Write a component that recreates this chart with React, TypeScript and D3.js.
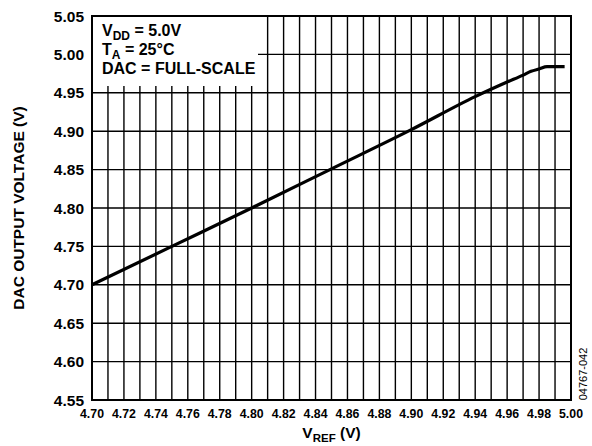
import React, { useEffect, useRef } from "react";
import * as d3 from "d3";

// data
const vref = [4.7, 4.75, 4.8, 4.85, 4.9, 4.94, 4.96, 4.97, 4.975, 4.98, 4.985, 4.99, 4.996];
const vout = [4.7, 4.75, 4.8, 4.851, 4.902, 4.945, 4.964, 4.973, 4.978, 4.981, 4.984, 4.984, 4.984];

const xTickLabels = [4.7, 4.72, 4.74, 4.76, 4.78, 4.8, 4.82, 4.84, 4.86, 4.88, 4.9, 4.92, 4.94, 4.96, 4.98, 5.0];
const yTickLabels = [4.55, 4.6, 4.65, 4.7, 4.75, 4.8, 4.85, 4.9, 4.95, 5.0, 5.05];

const W = 592;
const H = 446;
const FONT = "Arial, 'Liberation Sans', Helvetica, sans-serif";

const App: React.FC = () => {
  const svgRef = useRef<SVGSVGElement>(null);

  useEffect(() => {
    if (!svgRef.current) return;

    const margin = { top: 16, right: 21, bottom: 46, left: 92 };
    const innerW = W - margin.left - margin.right;
    const innerH = H - margin.top - margin.bottom;

    const svg = d3.select(svgRef.current);
    svg.selectAll("*").remove();

    const g = svg
      .append("g")
      .attr("transform", `translate(${margin.left},${margin.top})`);

    const x = d3.scaleLinear().domain([4.7, 5.0]).range([0, innerW]);
    const y = d3.scaleLinear().domain([4.55, 5.05]).range([innerH, 0]);

    // vertical grid, every 0.01
    const xGrid = d3.range(31).map(i => 4.7 + i * 0.01);
    g.selectAll(".vgrid")
      .data(xGrid)
      .enter()
      .append("line")
      .attr("x1", d => x(d))
      .attr("x2", d => x(d))
      .attr("y1", 0)
      .attr("y2", innerH)
      .attr("stroke", "#000")
      .attr("stroke-width", 1.4);

    // horizontal grid
    g.selectAll(".hgrid")
      .data(yTickLabels)
      .enter()
      .append("line")
      .attr("x1", 0)
      .attr("x2", innerW)
      .attr("y1", d => y(d))
      .attr("y2", d => y(d))
      .attr("stroke", "#000")
      .attr("stroke-width", 1.4);

    // legend box blanks out the grid
    g.append("rect")
      .attr("x", 0)
      .attr("y", 0)
      .attr("width", 166)
      .attr("height", 70)
      .attr("fill", "#fff");

    // frame
    g.append("rect")
      .attr("x", 0)
      .attr("y", 0)
      .attr("width", innerW)
      .attr("height", innerH)
      .attr("fill", "none")
      .attr("stroke", "#000")
      .attr("stroke-width", 2);

    // curve
    const pts: [number, number][] = vref.map((v, i) => [v, vout[i]]);
    const line = d3
      .line<[number, number]>()
      .x(d => x(d[0]))
      .y(d => y(d[1]))
      .curve(d3.curveMonotoneX);

    g.append("path")
      .datum(pts)
      .attr("d", line)
      .attr("fill", "none")
      .attr("stroke", "#000")
      .attr("stroke-width", 3.2)
      .attr("stroke-linejoin", "round");

    // X tick labels
    g.selectAll(".xlab")
      .data(xTickLabels)
      .enter()
      .append("text")
      .attr("x", d => x(d))
      .attr("y", innerH + 18)
      .attr("text-anchor", "middle")
      .style("font-family", FONT)
      .style("font-weight", "bold")
      .style("font-size", "12.3px")
      .text(d => d.toFixed(2));

    // Y tick labels
    g.selectAll(".ylab")
      .data(yTickLabels)
      .enter()
      .append("text")
      .attr("x", -8)
      .attr("y", d => y(d) + 5.5)
      .attr("text-anchor", "end")
      .style("font-family", FONT)
      .style("font-weight", "bold")
      .style("font-size", "15.5px")
      .text(d => d.toFixed(2));

    // legend text
    const legend = g
      .append("g")
      .attr("transform", "translate(10,0)")
      .style("font-family", FONT)
      .style("font-weight", "bold")
      .style("font-size", "16px");

    const l1 = legend.append("text").attr("x", 0).attr("y", 20);
    l1.append("tspan").text("V");
    l1.append("tspan").attr("dy", 3.5).style("font-size", "12px").text("DD");
    l1.append("tspan").attr("dy", -3.5).text(" = 5.0V");

    const l2 = legend.append("text").attr("x", 0).attr("y", 39);
    l2.append("tspan").text("T");
    l2.append("tspan").attr("dy", 3.5).style("font-size", "12px").text("A");
    l2.append("tspan").attr("dy", -3.5).text(" = 25°C");

    legend.append("text").attr("x", 0).attr("y", 57.5).text("DAC = FULL-SCALE");

    // X axis title
    const xt = svg
      .append("text")
      .attr("x", margin.left + innerW / 2)
      .attr("y", 438)
      .attr("text-anchor", "middle")
      .style("font-family", FONT)
      .style("font-weight", "bold")
      .style("font-size", "15.5px");
    xt.append("tspan").text("V");
    xt.append("tspan").attr("dy", 4).style("font-size", "11.5px").text("REF");
    xt.append("tspan").attr("dy", -4).text(" (V)");

    // Y axis title
    svg
      .append("text")
      .attr("transform", `translate(24,${margin.top + innerH / 2}) rotate(-90)`)
      .attr("text-anchor", "middle")
      .style("font-family", FONT)
      .style("font-weight", "bold")
      .style("font-size", "15.5px")
      .text("DAC OUTPUT VOLTAGE (V)");

    // figure code
    svg
      .append("text")
      .attr("transform", `translate(587,374) rotate(-90)`)
      .attr("text-anchor", "middle")
      .style("font-family", FONT)
      .style("font-size", "11px")
      .text("04767-042");
  }, []);

  return (
    <svg
      ref={svgRef}
      width={W}
      height={H}
      style={{ position: "absolute", left: 0, top: 0, background: "#fff" }}
    ></svg>
  );
};

export default App;
